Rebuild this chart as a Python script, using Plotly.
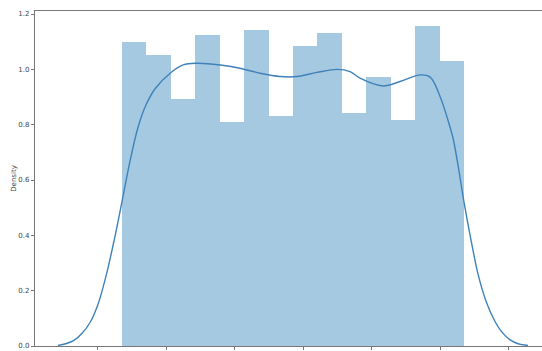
import plotly.graph_objects as go

# Histogram (density) of a uniform sample, 14 equal bins
bin_start = 0.07
bin_width = 1.0 / 14
density = [1.100, 1.052, 0.892, 1.125, 0.809, 1.143, 0.832,
           1.083, 1.131, 0.844, 0.974, 0.817, 1.155, 1.031]

# Kernel density estimate curve
kde_x = [-0.117, -0.094, -0.070, -0.047, -0.023, 0.000, 0.023, 0.047,
         0.070, 0.094, 0.117, 0.140, 0.167, 0.211, 0.249, 0.289, 0.357,
         0.415, 0.474, 0.532, 0.582, 0.640, 0.699, 0.737, 0.766, 0.833,
         0.883, 0.942, 0.971, 1.000, 1.023, 1.038, 1.053, 1.070, 1.091,
         1.111, 1.135, 1.158, 1.181, 1.205, 1.228, 1.257]
kde_y = [0.002, 0.008, 0.020, 0.045, 0.085, 0.150, 0.250, 0.380,
         0.520, 0.670, 0.790, 0.870, 0.930, 0.986, 1.016, 1.022, 1.016,
         1.004, 0.986, 0.974, 0.974, 0.989, 1.000, 0.992, 0.968, 0.940,
         0.956, 0.980, 0.972, 0.902, 0.817, 0.751, 0.650, 0.520, 0.380,
         0.260, 0.160, 0.095, 0.050, 0.022, 0.008, 0.002]

x_ticks = [0.0, 0.2, 0.4, 0.6, 0.8, 1.0, 1.2]
y_ticks = [0.0, 0.2, 0.4, 0.6, 0.8, 1.0, 1.2]

centers = [bin_start + (i + 0.5) * bin_width for i in range(len(density))]

fig = go.Figure()
fig.add_trace(go.Bar(
    x=centers, y=density, width=bin_width,
    marker=dict(color="rgba(31,119,180,0.4)", line=dict(width=0)),
    showlegend=False,
))
fig.add_trace(go.Scatter(
    x=kde_x, y=kde_y, mode="lines",
    line=dict(color="#3f82ba", width=1.4, shape="spline", smoothing=1.0),
    showlegend=False,
))

axis_color = "#777777"
fig.update_layout(
    width=542, height=351,
    margin=dict(l=35, r=0, t=11, b=5),
    paper_bgcolor="white", plot_bgcolor="white",
    bargap=0,
    font=dict(family="DejaVu Sans", size=7, color="#444444"),
    xaxis=dict(
        range=[-0.184, 1.298], automargin=False,
        tickvals=x_ticks, ticktext=[f"{v:.1f}" for v in x_ticks],
        showgrid=False, zeroline=False,
        showline=True, linecolor=axis_color, linewidth=1.2, mirror=True,
        ticks="outside", ticklen=3, tickcolor=axis_color, tickwidth=0.8,
        ticklabelstandoff=-2,
    ),
    yaxis=dict(
        range=[0, 1.211], automargin=False,
        tickvals=y_ticks, ticktext=[f"{v:.1f}" for v in y_ticks],
        showgrid=False, zeroline=False,
        showline=True, linecolor=axis_color, linewidth=1.2, mirror=False,
        ticks="outside", ticklen=3, tickcolor=axis_color, tickwidth=0.8,
        title=dict(text="Density", standoff=0, font=dict(size=7)),
    ),
)

fig.write_html("out.html")
